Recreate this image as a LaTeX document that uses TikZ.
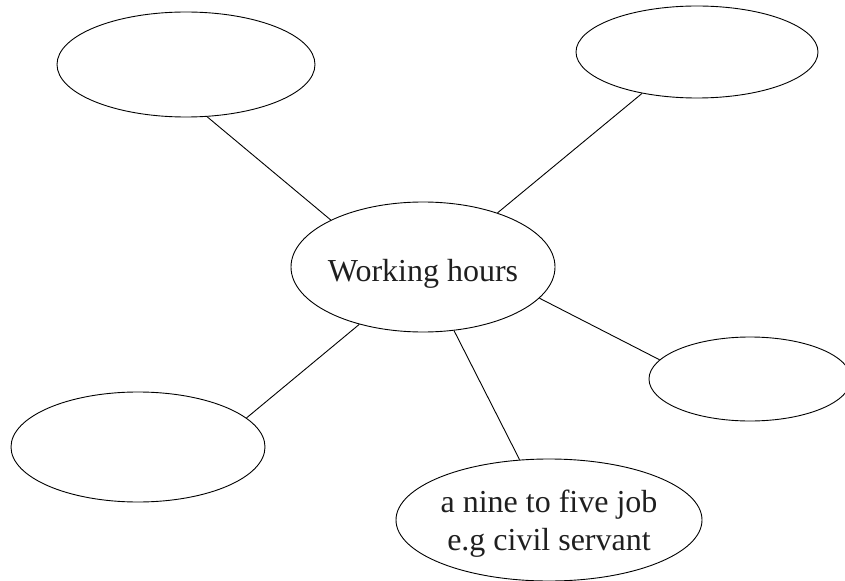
\documentclass[tikz,border=0pt]{standalone}
\usepackage{fontspec}
\setmainfont{Liberation Serif}
\usetikzlibrary{shapes.geometric}
\tikzset{
  bubble/.style={draw=black, line width=0.9bp, ellipse, inner sep=0pt},
  textlab/.style={inner sep=0pt, align=center,
                 font=\fontsize{32bp}{38bp}\selectfont, text=black!88},
  link/.style={draw=black, line width=0.9bp}
}
\begin{document}
\begin{tikzpicture}[x=1bp,y=-1bp]
\useasboundingbox (0,0) rectangle (845,581);
\clip (0,0) rectangle (845,581);
\node[bubble, minimum width=264bp, minimum height=130bp,
      label={[textlab, yshift=-7bp]center:Working hours}] (c) at (423,267) {};
\node[bubble, minimum width=258bp, minimum height=105bp] (tl) at (186,64.5) {};
\node[bubble, minimum width=242bp, minimum height=92bp] (tr) at (697,52) {};
\node[bubble, minimum width=202bp, minimum height=84bp] (r) at (750,379) {};
\node[bubble, minimum width=254bp, minimum height=110bp] (bl) at (138,447) {};
\node[bubble, minimum width=306bp, minimum height=122bp,
      label={[textlab, yshift=-3.5bp]center:{a nine to five job\\e.g civil servant}}] (b) at (549,520) {};
\draw[link] (tl.-68.2) -- (c.153.7);
\draw[link] (tr.217) -- (c.36.5);
\draw[link] (c.-15.4) -- (r.168.8);
\draw[link] (c.222.2) -- (bl.15.7);
\draw[link] (c.-64.5) -- (b.116.2);
\end{tikzpicture}
\end{document}
